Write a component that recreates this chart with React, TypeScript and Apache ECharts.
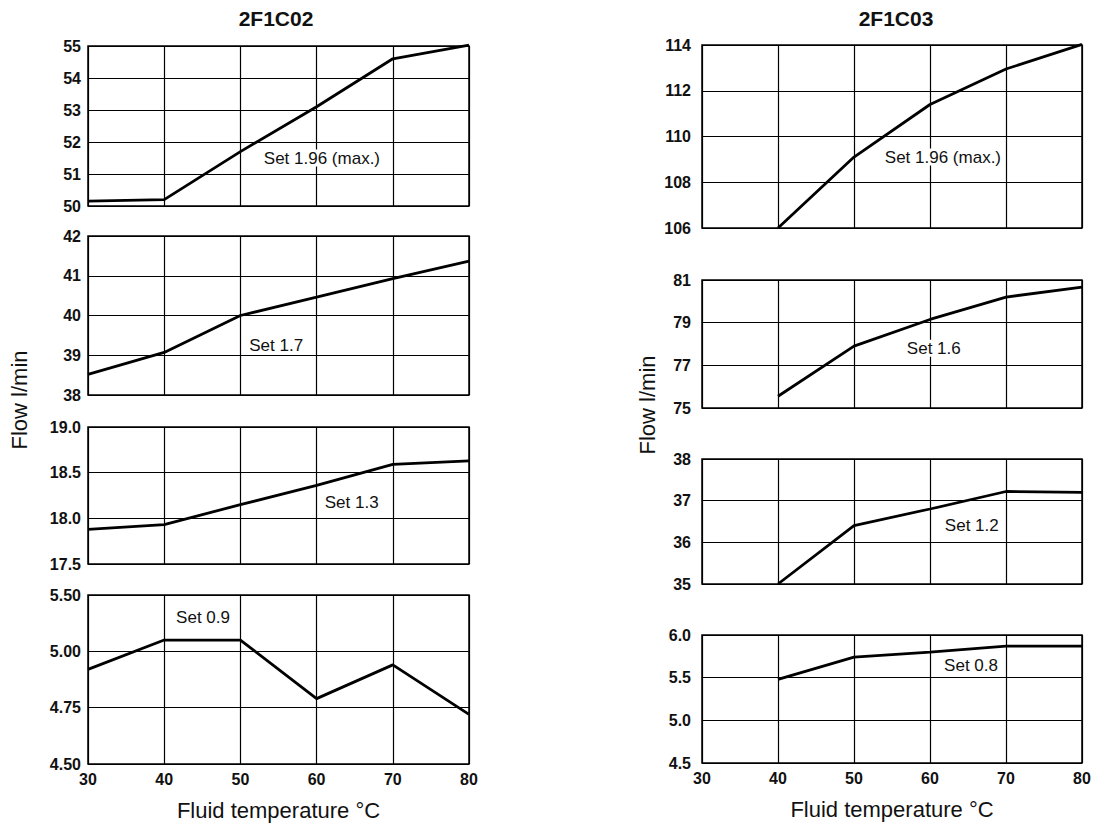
import React, { useEffect, useRef } from "react";
import * as echarts from "echarts";

// ---- data ----
const temps = [30, 40, 50, 60, 70, 80];
const xTicks = [30, 40, 50, 60, 70, 80];

const leftTitle = "2F1C02";
const rightTitle = "2F1C03";
const xAxisName = "Fluid temperature °C";
const yAxisName = "Flow l/min";

// 2F1C02
const l1Values = [50.15, 50.2, 51.7, 53.1, 54.6, 55.03];
const l2Values = [38.52, 39.07, 40.0, 40.46, 40.93, 41.37];
const l3Values = [17.88, 17.93, 18.15, 18.36, 18.59, 18.63];
const l4Values = [4.92, 5.05, 5.05, 4.79, 4.94, 4.72];
// 2F1C03
const r1Values = [null, 106.0, 109.1, 111.4, 112.95, 114.03];
const r2Values = [null, 75.55, 77.9, 79.15, 80.2, 80.67];
const r3Values = [null, 35.0, 36.4, 36.8, 37.22, 37.2];
const r4Values = [null, 5.48, 5.74, 5.8, 5.87, 5.87];

const l1Ticks = [50, 51, 52, 53, 54, 55];
const l2Ticks = [38, 39, 40, 41, 42];
const l3Ticks = [17.5, 18.0, 18.5, 19.0];
const l4Ticks = [4.5, 4.75, 5.0, 5.25];
const r1Ticks = [106, 108, 110, 112, 114];
const r2Ticks = [75, 77, 79, 81];
const r3Ticks = [35, 36, 37, 38];
const r4Ticks = [4.5, 5.0, 5.5, 6.0];

const l1TickLabels = ["50", "51", "52", "53", "54", "55"];
const l2TickLabels = ["38", "39", "40", "41", "42"];
const l3TickLabels = ["17.5", "18.0", "18.5", "19.0"];
const l4TickLabels = ["4.50", "4.75", "5.00", "5.50"];
const r1TickLabels = ["106", "108", "110", "112", "114"];
const r2TickLabels = ["75", "77", "79", "81"];
const r3TickLabels = ["35", "36", "37", "38"];
const r4TickLabels = ["4.5", "5.0", "5.5", "6.0"];

const setLabels = ["Set 1.96 (max.)", "Set 1.7", "Set 1.3", "Set 0.9", "Set 1.96 (max.)", "Set 1.6", "Set 1.2", "Set 0.8"];

// ---- layout ----
const FONT = '"Liberation Sans", Arial, Helvetica, sans-serif';

const panels = [
  { values: l1Values, ticks: l1Ticks, tickLabels: l1TickLabels, grid: { left: 88, top: 46, width: 381, height: 160 }, note: [60.7, 51.5], bottom: false, side: "l" },
  { values: l2Values, ticks: l2Ticks, tickLabels: l2TickLabels, grid: { left: 88, top: 236, width: 381, height: 159 }, note: [54.7, 39.25], bottom: false, side: "l" },
  { values: l3Values, ticks: l3Ticks, tickLabels: l3TickLabels, grid: { left: 88, top: 427, width: 381, height: 137 }, note: [64.6, 18.17], bottom: false, side: "l" },
  { values: l4Values, ticks: l4Ticks, tickLabels: l4TickLabels, grid: { left: 88, top: 595, width: 381, height: 169 }, note: [45.1, 5.152], bottom: true, side: "l" },
  { values: r1Values, ticks: r1Ticks, tickLabels: r1TickLabels, grid: { left: 702, top: 45, width: 380, height: 183 }, note: [61.7, 109.1], bottom: false, side: "r" },
  { values: r2Values, ticks: r2Ticks, tickLabels: r2TickLabels, grid: { left: 702, top: 280, width: 380, height: 128 }, note: [60.5, 77.8], bottom: false, side: "r" },
  { values: r3Values, ticks: r3Ticks, tickLabels: r3TickLabels, grid: { left: 702, top: 459, width: 380, height: 125 }, note: [65.5, 36.4], bottom: false, side: "r" },
  { values: r4Values, ticks: r4Ticks, tickLabels: r4TickLabels, grid: { left: 702, top: 635, width: 380, height: 128 }, note: [65.4, 5.64], bottom: true, side: "r" },
];

function buildOption() {
  const grid: any[] = [];
  const xAxis: any[] = [];
  const yAxis: any[] = [];
  const series: any[] = [];

  panels.forEach((p, i) => {
    grid.push({
      ...p.grid,
      show: true,
      borderColor: "#000",
      borderWidth: 1.5,
      backgroundColor: "#fff",
      containLabel: false,
    });
    xAxis.push({
      type: "value",
      gridIndex: i,
      min: 30,
      max: 80,
      interval: 10,
      axisLine: { show: false },
      axisTick: { show: false, customValues: xTicks },
      splitLine: { show: true, lineStyle: { color: "#000", width: 1.2 } },
      axisLabel: {
        show: p.bottom,
        customValues: xTicks,
        margin: 7,
        color: "#111",
        fontSize: 16,
        fontWeight: "bold",
        fontFamily: FONT,
      },
      name: p.bottom ? xAxisName : "",
      nameLocation: "middle",
      nameGap: 35,
      nameTextStyle: { fontSize: 22, color: "#111", fontFamily: FONT },
    });
    const ticks = p.ticks;
    const labels = p.tickLabels;
    yAxis.push({
      type: "value",
      gridIndex: i,
      min: ticks[0],
      max: ticks[ticks.length - 1],
      axisLine: { show: false },
      axisTick: { show: false, customValues: ticks },
      splitLine: { show: true, lineStyle: { color: "#000", width: 1.2 } },
      axisLabel: {
        show: true,
        customValues: ticks,
        margin: p.side === "l" ? 7 : 11,
        color: "#111",
        fontSize: 16,
        fontWeight: "bold",
        fontFamily: FONT,
        formatter: (v: number) => {
          const idx = ticks.findIndex((t) => Math.abs(t - v) < 1e-6);
          return idx >= 0 ? labels[idx] : "";
        },
      },
    });
    const data = temps
      .map((t, k) => [t, p.values[k]])
      .filter((d) => d[1] !== null && d[1] !== undefined);
    series.push({
      type: "line",
      xAxisIndex: i,
      yAxisIndex: i,
      data,
      symbol: "none",
      clip: false,
      lineStyle: { color: "#000", width: 2.8 },
      silent: true,
      markPoint: {
        silent: true,
        symbol: "rect",
        symbolSize: 1,
        itemStyle: { color: "rgba(0,0,0,0)" },
        label: {
          show: true,
          position: "inside",
          formatter: setLabels[i],
          backgroundColor: "#fff",
          padding: [0, 2],
          color: "#111",
          fontSize: 17,
          fontFamily: FONT,
        },
        data: [{ coord: p.note }],
      },
    });
  });

  const graphic: any[] = [
    {
      type: "text",
      x: 276,
      y: 18,
      style: { text: leftTitle, textAlign: "center", textVerticalAlign: "middle", align: "center", verticalAlign: "middle", font: `bold 21px ${FONT}`, fill: "#111" },
    },
    {
      type: "text",
      x: 896,
      y: 18,
      style: { text: rightTitle, textAlign: "center", textVerticalAlign: "middle", align: "center", verticalAlign: "middle", font: `bold 21px ${FONT}`, fill: "#111" },
    },
    {
      type: "text",
      x: 19,
      y: 400,
      rotation: Math.PI / 2,
      style: { text: yAxisName, textAlign: "center", textVerticalAlign: "middle", align: "center", verticalAlign: "middle", font: `22px ${FONT}`, fill: "#111" },
    },
    {
      type: "text",
      x: 647,
      y: 405,
      rotation: Math.PI / 2,
      style: { text: yAxisName, textAlign: "center", textVerticalAlign: "middle", align: "center", verticalAlign: "middle", font: `22px ${FONT}`, fill: "#111" },
    },
  ];

  return {
    animation: false,
    backgroundColor: "#fff",
    textStyle: { fontFamily: FONT },
    grid,
    xAxis,
    yAxis,
    series,
    graphic,
  };
}

export default function App() {
  const ref = useRef<HTMLDivElement>(null);
  useEffect(() => {
    document.body.style.margin = "0";
    if (!ref.current) return;
    const chart = echarts.init(ref.current, undefined, { renderer: "svg" });
    chart.setOption(buildOption() as any);
    return () => chart.dispose();
  }, []);
  return <div ref={ref} style={{ width: 1097, height: 824 }} />;
}
